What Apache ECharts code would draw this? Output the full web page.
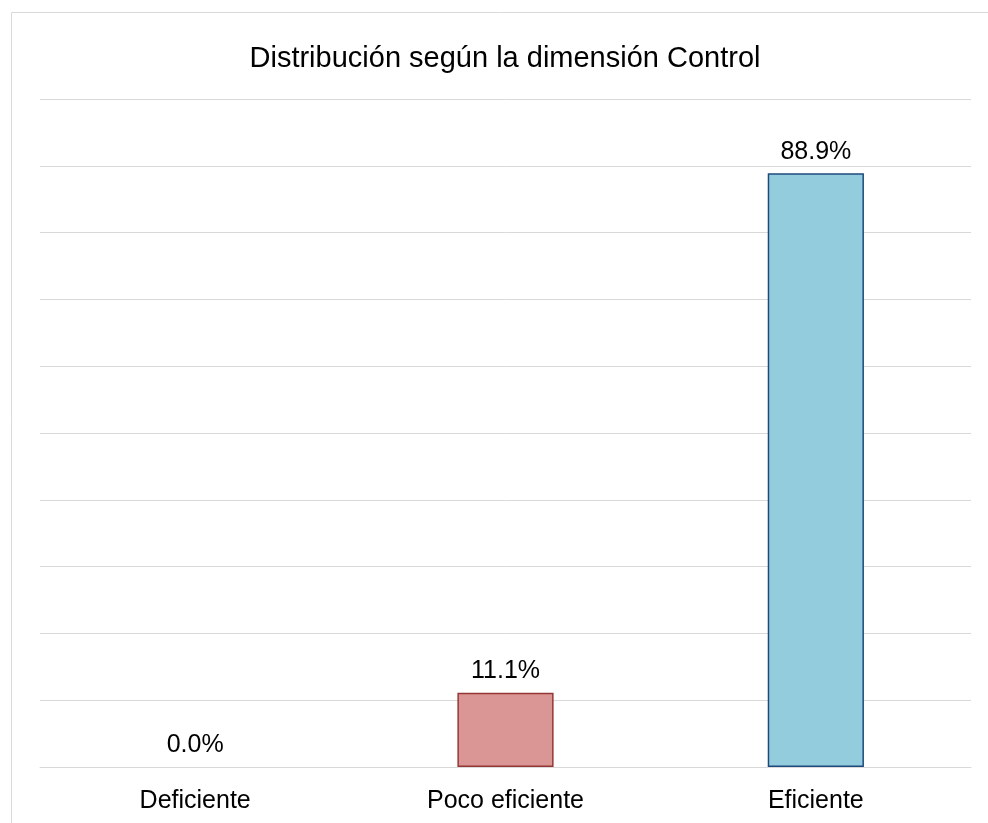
<!DOCTYPE html>
<html lang="es">
<head>
    <meta charset="UTF-8">
    <title>Distribución según la dimensión Control</title>
    <script src="https://cdn.jsdelivr.net/npm/echarts@6/dist/echarts.min.js"></script>
    <style>
        html, body { margin: 0; padding: 0; background: #fff; }
    </style>
</head>
<body>
<div id="main" style="width:988px;height:823px;"></div>
<script type="text/javascript">
    // datos del gráfico
    var categorias = ['Deficiente', 'Poco eficiente', 'Eficiente'];
    var porcentajes = [0.0, 11.1, 88.9];
    var coloresRelleno = ['#4f81bd', '#d99694', '#93cddd'];
    var coloresBorde = ['#385d8a', '#953735', '#1f497d'];

    var myChart = echarts.init(document.getElementById('main'));

    var option = {
        backgroundColor: '#fff',
        textStyle: { fontFamily: 'Liberation Sans, Arial, sans-serif' },
        title: {
            text: 'Distribución según la dimensión Control',
            left: 505,
            textAlign: 'center',
            top: 44,
            padding: 0,
            textStyle: {
                fontFamily: 'Liberation Sans, Arial, sans-serif',
                fontSize: 29,
                fontWeight: 'normal',
                color: '#000'
            }
        },
        // marco exterior del gráfico
        graphic: [{
            type: 'rect',
            shape: { x: 11.5, y: 12.5, width: 1200, height: 1000 },
            style: { fill: 'none', stroke: '#d9d9d9', lineWidth: 1 },
            silent: true
        }],
        grid: {
            left: 40,
            right: 17,
            top: 99,
            bottom: 56
        },
        xAxis: {
            type: 'category',
            data: categorias,
            axisLine: { show: true, lineStyle: { color: '#d9d9d9', width: 1 } },
            axisTick: { show: false },
            axisLabel: {
                margin: 22,
                fontSize: 25,
                color: '#000',
                fontFamily: 'Liberation Sans, Arial, sans-serif'
            }
        },
        yAxis: {
            type: 'value',
            min: 0,
            max: 100,
            interval: 10,
            axisLabel: { show: false },
            axisLine: { show: false },
            axisTick: { show: false },
            splitLine: { lineStyle: { color: '#d9d9d9', width: 1 } }
        },
        series: [{
            type: 'bar',
            barWidth: '31%',
            data: porcentajes.map(function (v, i) {
                return {
                    value: v,
                    itemStyle: {
                        color: coloresRelleno[i],
                        borderColor: coloresBorde[i],
                        borderWidth: v > 0 ? 1.5 : 0
                    }
                };
            }),
            label: {
                show: true,
                position: 'top',
                distance: 9,
                fontSize: 25,
                color: '#000',
                fontFamily: 'Liberation Sans, Arial, sans-serif',
                formatter: function (p) {
                    return p.value.toFixed(1) + '%';
                }
            }
        }]
    };

    myChart.setOption(option);
</script>
</body>
</html>
